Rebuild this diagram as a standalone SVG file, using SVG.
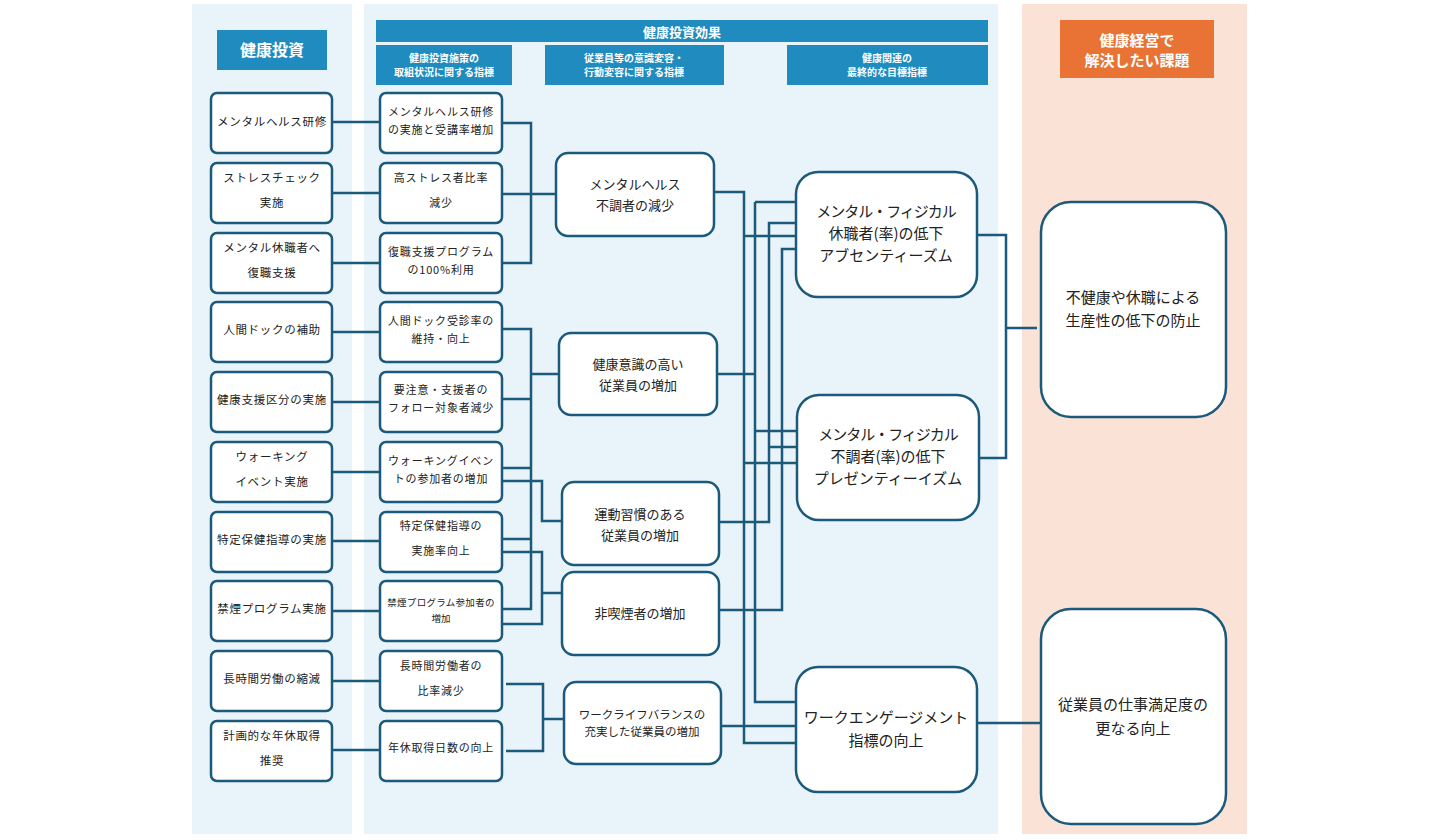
<svg xmlns="http://www.w3.org/2000/svg" width="1440" height="840" viewBox="0 0 1440 840">
<style>
text{font-family:"Noto Sans CJK JP","Noto Sans",sans-serif;text-anchor:middle;fill:#222}
.hd{fill:#ffffff;font-weight:bold}
.b1{fill:#fff;stroke:#1b5a7a;stroke-width:2.5}
.c1{font-size:11.5px;letter-spacing:0.7px}
.c2{font-size:11px;letter-spacing:0.8px}
.c3{font-size:13px}
.c4{font-size:15px}
.ln{fill:none;stroke:#1b5a7a;stroke-width:2.5}
</style>
<rect width="1440" height="840" fill="#fff"/>
<g id="panels">
<rect x="192" y="4" width="160" height="830" fill="#e8f3fa"/>
<rect x="364" y="4" width="634" height="830" fill="#e8f3fa"/>
<rect x="1022" y="4" width="225" height="830" fill="#fbe2d6"/>
</g>
<g id="headers">
<rect x="217" y="30" width="110" height="40" fill="#1f8bbe"/>
<text class="hd" x="272" y="56" font-size="16">健康投資</text>
<rect x="376" y="20" width="612" height="22" fill="#1f8bbe"/>
<text class="hd" x="682" y="37" font-size="13">健康投資効果</text>
<rect x="376" y="45" width="136" height="40" fill="#1f8bbe"/>
<text class="hd" x="444" y="62" font-size="10">健康投資施策の</text>
<text class="hd" x="444" y="76" font-size="10">取組状況に関する指標</text>
<rect x="545" y="45" width="179" height="40" fill="#1f8bbe"/>
<text class="hd" x="634" y="62" font-size="10">従業員等の意識変容・</text>
<text class="hd" x="634" y="76" font-size="10">行動変容に関する指標</text>
<rect x="787" y="45" width="201" height="40" fill="#1f8bbe"/>
<text class="hd" x="887" y="62" font-size="10">健康関連の</text>
<text class="hd" x="887" y="76" font-size="10">最終的な目標指標</text>
<rect x="1060" y="20" width="154" height="58" fill="#e87334"/>
<text class="hd" x="1137" y="46" font-size="15">健康経営で</text>
<text class="hd" x="1137" y="66" font-size="15">解決したい課題</text>
</g>
<g id="connectors" class="ln">
<path d="M332 122H380M332 193H380M332 263H380M332 332H380M332 402H380M332 472H380M332 541H380M332 611H380M332 681H380M332 750H380"/>
<path d="M502 123H531V263H502M502 194H556"/>
<path d="M502 329H531V609H502M502 399H531M502 468H531M502 539H531M531 374H559"/>
<path d="M502 481H542V521H562"/>
<path d="M502 552H542V624H502M542 593H562"/>
<path d="M506 684H543V751H506M543 719H564"/>
<path d="M714 192H744V743H795M744 236H795M744 463H797"/>
<path d="M717 374H755M755 202H795M755 202V702H795M755 431H797"/>
<path d="M719 522H769V223H795M769 447H797"/>
<path d="M719 610H782V249H795"/>
<path d="M721 726H796"/>
<path d="M977 235H1006V458H979M1006 328H1037"/>
<path d="M977 723H1041"/>
</g>
<g id="n-l1"><rect class="b1" x="211" y="93" width="121" height="60" rx="6"/><text class="c1" x="272" y="126">メンタルヘルス研修</text></g>
<g id="n-l2"><rect class="b1" x="211" y="163" width="121" height="60" rx="6"/><text class="c1" x="272" y="182">ストレスチェック</text><text class="c1" x="272" y="207">実施</text></g>
<g id="n-l3"><rect class="b1" x="211" y="233" width="121" height="60" rx="6"/><text class="c1" x="272" y="252">メンタル休職者へ</text><text class="c1" x="272" y="277">復職支援</text></g>
<g id="n-l4"><rect class="b1" x="211" y="302" width="121" height="60" rx="6"/><text class="c1" x="272" y="334">人間ドックの補助</text></g>
<g id="n-l5"><rect class="b1" x="211" y="372" width="121" height="60" rx="6"/><text class="c1" x="272" y="404">健康支援区分の実施</text></g>
<g id="n-l6"><rect class="b1" x="211" y="442" width="121" height="60" rx="6"/><text class="c1" x="272" y="461">ウォーキング</text><text class="c1" x="272" y="486">イベント実施</text></g>
<g id="n-l7"><rect class="b1" x="211" y="512" width="121" height="60" rx="6"/><text class="c1" x="272" y="544">特定保健指導の実施</text></g>
<g id="n-l8"><rect class="b1" x="211" y="581" width="121" height="60" rx="6"/><text class="c1" x="272" y="613">禁煙プログラム実施</text></g>
<g id="n-l9"><rect class="b1" x="211" y="651" width="121" height="60" rx="6"/><text class="c1" x="272" y="683">長時間労働の縮減</text></g>
<g id="n-l10"><rect class="b1" x="211" y="721" width="121" height="60" rx="6"/><text class="c1" x="272" y="740">計画的な年休取得</text><text class="c1" x="272" y="765">推奨</text></g>
<g id="n-m1"><rect class="b1" x="380" y="93" width="122" height="60" rx="6"/><text class="c2" x="441" y="116">メンタルヘルス研修</text><text class="c2" x="441" y="134">の実施と受講率増加</text></g>
<g id="n-m2"><rect class="b1" x="380" y="163" width="122" height="60" rx="6"/><text class="c2" x="441" y="182">高ストレス者比率</text><text class="c2" x="441" y="207">減少</text></g>
<g id="n-m3"><rect class="b1" x="380" y="233" width="122" height="60" rx="6"/><text class="c2" x="441" y="256">復職支援プログラム</text><text class="c2" x="441" y="274">の100%利用</text></g>
<g id="n-m4"><rect class="b1" x="380" y="302" width="122" height="60" rx="6"/><text class="c2" x="441" y="325">人間ドック受診率の</text><text class="c2" x="441" y="343">維持・向上</text></g>
<g id="n-m5"><rect class="b1" x="380" y="372" width="122" height="60" rx="6"/><text class="c2" x="441" y="394">要注意・支援者の</text><text class="c2" x="441" y="412">フォロー対象者減少</text></g>
<g id="n-m6"><rect class="b1" x="380" y="442" width="122" height="60" rx="6"/><text class="c2" x="441" y="465">ウォーキングイベン</text><text class="c2" x="441" y="483">トの参加者の増加</text></g>
<g id="n-m7"><rect class="b1" x="380" y="512" width="122" height="60" rx="6"/><text class="c2" x="441" y="530">特定保健指導の</text><text class="c2" x="441" y="555">実施率向上</text></g>
<g id="n-m8"><rect class="b1" x="380" y="581" width="122" height="60" rx="6"/><text x="441" y="606" font-size="9.5" letter-spacing="0.3">禁煙プログラム参加者の</text><text x="441" y="622" font-size="9.5">増加</text></g>
<g id="n-m9"><rect class="b1" x="380" y="651" width="122" height="60" rx="6"/><text class="c2" x="441" y="670">長時間労働者の</text><text class="c2" x="441" y="695">比率減少</text></g>
<g id="n-m10"><rect class="b1" x="380" y="721" width="122" height="60" rx="6"/><text class="c2" x="441" y="752">年休取得日数の向上</text></g>
<g id="n-e1"><rect class="b1" x="556" y="153" width="158" height="83" rx="12"/><text class="c3" x="635" y="189">メンタルヘルス</text><text class="c3" x="635" y="210">不調者の減少</text></g>
<g id="n-e2"><rect class="b1" x="559" y="333" width="158" height="82" rx="12"/><text class="c3" x="638" y="369">健康意識の高い</text><text class="c3" x="638" y="390">従業員の増加</text></g>
<g id="n-e3"><rect class="b1" x="562" y="482" width="157" height="83" rx="12"/><text class="c3" x="640" y="519">運動習慣のある</text><text class="c3" x="640" y="540">従業員の増加</text></g>
<g id="n-e4"><rect class="b1" x="562" y="572" width="157" height="83" rx="12"/><text class="c3" x="640" y="618">非喫煙者の増加</text></g>
<g id="n-e5"><rect class="b1" x="564" y="682" width="157" height="82" rx="12"/><text x="642" y="719" font-size="11.5">ワークライフバランスの</text><text x="642" y="736" font-size="11.5">充実した従業員の増加</text></g>
<g id="n-g1"><rect class="b1" x="796" y="172" width="181" height="125" rx="22"/><text class="c4" x="886" y="217" letter-spacing="-1">メンタル・フィジカル</text><text class="c4" x="886" y="239">休職者(率)の低下</text><text class="c4" x="886" y="261">アブセンティーズム</text></g>
<g id="n-g2"><rect class="b1" x="797" y="395" width="182" height="125" rx="22"/><text class="c4" x="888" y="440" letter-spacing="-1">メンタル・フィジカル</text><text class="c4" x="888" y="462">不調者(率)の低下</text><text class="c4" x="888" y="484">プレゼンティーイズム</text></g>
<g id="n-g3"><rect class="b1" x="796" y="667" width="181" height="125" rx="22"/><text class="c4" x="886" y="723">ワークエンゲージメント</text><text class="c4" x="886" y="746">指標の向上</text></g>
<g id="n-r1"><rect class="b1" x="1041" y="202" width="185" height="215" rx="30"/><text class="c4" x="1133" y="303">不健康や休職による</text><text class="c4" x="1133" y="326">生産性の低下の防止</text></g>
<g id="n-r2"><rect class="b1" x="1041" y="609" width="185" height="215" rx="30"/><text class="c4" x="1133" y="710">従業員の仕事満足度の</text><text class="c4" x="1133" y="734">更なる向上</text></g>
</svg>
